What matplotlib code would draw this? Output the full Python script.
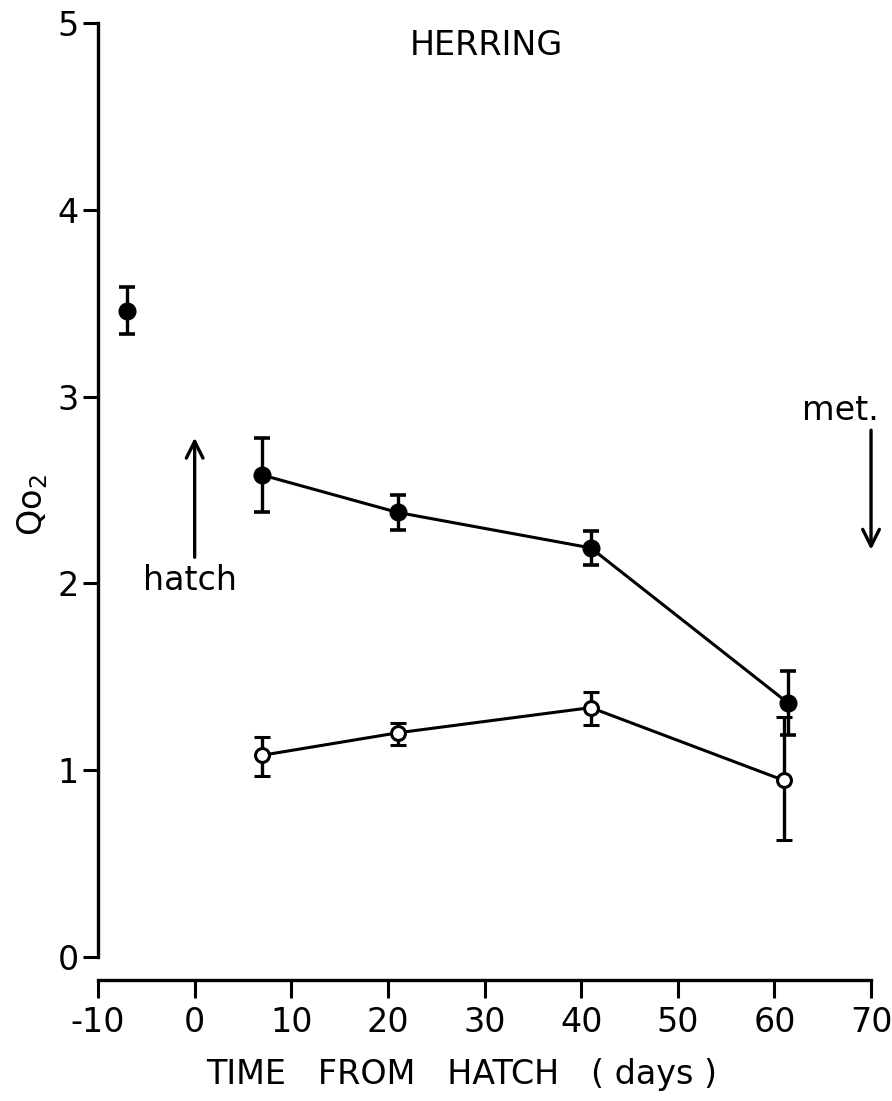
import matplotlib.pyplot as plt

# Oxygen consumption (Qo2) of herring, egg stage and larvae
egg_day = [-7]
egg_q = [3.46]
egg_err = [0.125]

days_filled = [7, 21, 41, 61.4]
q_filled = [2.58, 2.38, 2.19, 1.36]
err_filled = [0.20, 0.095, 0.09, 0.17]

days_open = [7, 21, 41, 61]
q_open = [1.08, 1.20, 1.335, 0.945]
err_open_lo = [0.11, 0.063, 0.093, 0.32]
err_open_hi = [0.10, 0.055, 0.085, 0.34]

xticks = [-10, 0, 10, 20, 30, 40, 50, 60, 70]
yticks = [0, 1, 2, 3, 4, 5]

plt.rcParams["font.family"] = ["DejaVu Sans"]
fs = 24

fig = plt.figure(figsize=(8.92, 11.01), dpi=100)
ax = fig.add_axes([0.1099, 0.1308, 0.8666, 0.8483])

eb = dict(color="black", ecolor="black", elinewidth=2.4, capsize=6,
          capthick=2.6, lw=2.2, clip_on=False)

ax.errorbar(egg_day, egg_q, yerr=egg_err, fmt="o", ms=12, **eb)
ax.errorbar(days_filled, q_filled, yerr=err_filled, fmt="-o", ms=12, **eb)
ax.errorbar(days_open, q_open, yerr=[err_open_lo, err_open_hi], fmt="-o",
            ms=10, mfc="white", mec="black", mew=2.2, **eb)

# hatch and metamorphosis markers
arrow = dict(arrowstyle="->", lw=2.4, mutation_scale=30, color="black",
             shrinkA=0, shrinkB=0)
ax.annotate("", xy=(0, 2.78), xytext=(0, 2.14), arrowprops=arrow)
ax.text(-0.46, 1.965, "hatch", fontsize=fs, ha="center", va="baseline")

ax.annotate("", xy=(70, 2.18), xytext=(70, 2.82), arrowprops=arrow,
            annotation_clip=False)
ax.text(66.8, 2.875, "met.", fontsize=fs, ha="center", va="baseline")

ax.text(30.2, 4.83, "HERRING", fontsize=fs, ha="center", va="baseline")

ax.set_xlim(-10, 70)
ax.set_ylim(0, 5)
ax.set_xticks(xticks)
ax.set_yticks(yticks)
ax.set_xticklabels([str(t) for t in xticks])

for s in ["top", "right"]:
    ax.spines[s].set_visible(False)
ax.spines["bottom"].set_position(("outward", 16.5))
ax.spines["left"].set_linewidth(2.4)
ax.spines["bottom"].set_linewidth(2.4)

ax.tick_params(axis="x", length=13, width=2.2, labelsize=fs, pad=6)
ax.tick_params(axis="y", length=11, width=2.2, labelsize=fs, pad=3)

ax.set_xlabel("TIME   FROM   HATCH   ( days )", fontsize=fs)
ax.xaxis.set_label_coords(0.471, -0.108)
ax.set_ylabel("Qo$_2$", fontsize=fs)
ax.yaxis.set_label_coords(-0.062, 0.484)

fig.savefig("out.png", dpi=100)
